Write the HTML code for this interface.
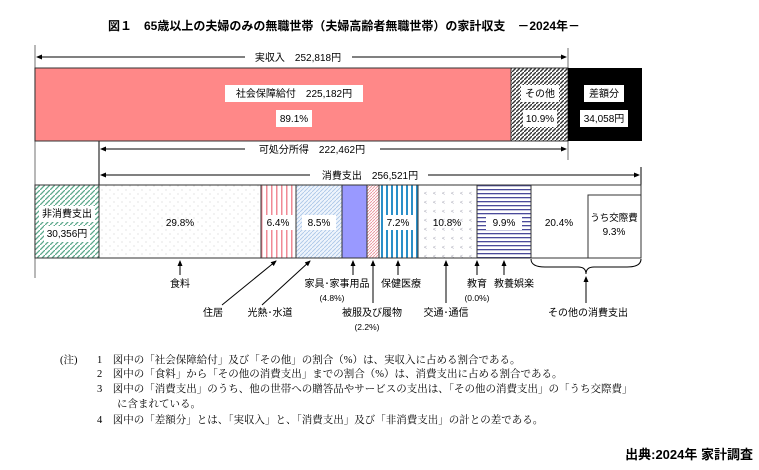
<!DOCTYPE html>
<html><head><meta charset="utf-8"><style>
body{margin:0;background:#fff}
svg{display:block}
text{font-family:"Liberation Sans","Noto Sans CJK JP",sans-serif;font-size:10px;fill:#000}
.s{font-family:"Liberation Serif","Noto Serif CJK SC",serif;font-size:10.5px}
</style></head><body>
<svg width="759" height="470" viewBox="0 0 759 470" xmlns="http://www.w3.org/2000/svg">
<defs>
<pattern id="hb" width="4" height="4" patternUnits="userSpaceOnUse"><rect width="4" height="4" fill="#fff"/><path d="M-1,5 L5,-1" stroke="#333" stroke-width="1.4"/></pattern>
<pattern id="hg" width="5" height="5" patternUnits="userSpaceOnUse"><rect width="5" height="5" fill="#fff"/><path d="M-1,6 L6,-1" stroke="#5aa88a" stroke-width="1.3"/></pattern>
<pattern id="dot" width="8" height="8" patternUnits="userSpaceOnUse"><rect width="8" height="8" fill="#fff"/><circle cx="2" cy="2" r="0.5" fill="#bbb"/><circle cx="6" cy="6" r="0.5" fill="#bbb"/></pattern>
<pattern id="vr" width="5" height="5" patternUnits="userSpaceOnUse"><rect width="5" height="5" fill="#fff"/><rect x="1" width="1.5" height="5" fill="#f08a95"/></pattern>
<pattern id="lb" width="4" height="4" patternUnits="userSpaceOnUse"><rect width="4" height="4" fill="#eef4fc"/><path d="M-1,5 L5,-1" stroke="#a8c4e6" stroke-width="0.8"/></pattern>
<pattern id="rd" width="3" height="3" patternUnits="userSpaceOnUse"><rect width="3" height="3" fill="#fff"/><path d="M-1,4 L4,-1" stroke="#e8909a" stroke-width="0.9"/></pattern>
<pattern id="bv" width="5" height="5" patternUnits="userSpaceOnUse"><rect width="5" height="5" fill="#fff"/><rect x="1" width="2" height="5" fill="#2a8fc8"/></pattern>
<pattern id="pt" width="9" height="9" patternUnits="userSpaceOnUse"><rect width="9" height="9" fill="#fff"/><text x="1" y="6" style="font-size:5px;fill:#99a">&lt;</text></pattern>
<pattern id="hz" width="4" height="4" patternUnits="userSpaceOnUse"><rect width="4" height="4" fill="#fff"/><rect y="1" width="4" height="1.3" fill="#4a4a9a"/></pattern>
<marker id="a" markerWidth="6" markerHeight="6" refX="5" refY="3" orient="auto"><path d="M0,0.5 L6,3 L0,5.5z" fill="#000"/></marker>
</defs>
<text x="108" y="30" style="font-size:12px;font-weight:bold">図１　65歳以上の夫婦のみの無職世帯（夫婦高齢者無職世帯）の家計収支　－2024年－</text>
<!-- guide lines -->
<line x1="35" y1="45" x2="35" y2="278" stroke="#888" stroke-width="1.2"/>
<line x1="568" y1="48" x2="568" y2="160" stroke="#888" stroke-width="1.2"/>
<line x1="99" y1="141" x2="99" y2="186" stroke="#000"/>
<line x1="641" y1="167" x2="641" y2="186" stroke="#000"/>
<!-- arrows -->
<line x1="245" y1="57" x2="37" y2="57" stroke="#000" marker-end="url(#a)"/>
<line x1="352" y1="57" x2="566" y2="57" stroke="#000" marker-end="url(#a)"/>
<text x="298" y="61" text-anchor="middle">実収入　252,818円</text>
<line x1="245" y1="149" x2="101" y2="149" stroke="#000" marker-end="url(#a)"/>
<line x1="380" y1="149" x2="566" y2="149" stroke="#000" marker-end="url(#a)"/>
<text x="312" y="153" text-anchor="middle">可処分所得　222,462円</text>
<line x1="310" y1="175" x2="101" y2="175" stroke="#000" marker-end="url(#a)"/>
<line x1="428" y1="175" x2="639" y2="175" stroke="#000" marker-end="url(#a)"/>
<text x="370" y="179" text-anchor="middle">消費支出　256,521円</text>
<!-- top bar -->
<rect x="35" y="68" width="476" height="73" fill="#ff8888" stroke="#333"/>
<rect x="511" y="68" width="57" height="73" fill="url(#hb)" stroke="#333"/>
<rect x="568" y="68" width="74" height="73" fill="#000"/>
<rect x="225" y="85" width="138" height="17" fill="#fff"/><text x="294" y="97" text-anchor="middle">社会保障給付　225,182円</text>
<rect x="276" y="110" width="36" height="17" fill="#fff"/><text x="294" y="122" text-anchor="middle">89.1%</text>
<rect x="521" y="85" width="38" height="17" fill="#fff"/><text x="540" y="97" text-anchor="middle">その他</text>
<rect x="523" y="110" width="34" height="17" fill="#fff"/><text x="540" y="122" text-anchor="middle">10.9%</text>
<rect x="584" y="85" width="40" height="17" fill="#fff"/><text x="604" y="97" text-anchor="middle">差額分</text>
<rect x="580" y="110" width="48" height="17" fill="#fff"/><text x="604" y="122" text-anchor="middle">34,058円</text>
<!-- bottom bar -->
<g stroke="#333">
<rect x="35" y="185" width="64" height="73" fill="url(#hg)"/>
<rect x="99" y="185" width="162" height="73" fill="url(#dot)"/>
<rect x="261" y="185" width="35" height="73" fill="url(#vr)"/>
<rect x="296" y="185" width="46" height="73" fill="url(#lb)"/>
<rect x="342" y="185" width="25" height="73" fill="#9999ff"/>
<rect x="367" y="185" width="12" height="73" fill="url(#rd)"/>
<rect x="379" y="185" width="39" height="73" fill="url(#bv)"/>
<rect x="418" y="185" width="59" height="73" fill="url(#pt)"/>
<rect x="477" y="185" width="54" height="73" fill="url(#hz)"/>
<rect x="531" y="185" width="110" height="73" fill="#fff"/>
<rect x="588" y="195" width="53" height="63" fill="#fff"/>
</g>
<rect x="39" y="206" width="56" height="16" fill="#fff"/><text x="67" y="217" text-anchor="middle">非消費支出</text>
<rect x="44" y="226" width="46" height="16" fill="#fff"/><text x="67" y="237" text-anchor="middle">30,356円</text>
<text x="180" y="226" text-anchor="middle">29.8%</text>
<rect x="264" y="215" width="29" height="15" fill="#fff"/><text x="278" y="226" text-anchor="middle">6.4%</text>
<rect x="302" y="215" width="34" height="15" fill="#fff"/><text x="319" y="226" text-anchor="middle">8.5%</text>
<rect x="384" y="215" width="29" height="15" fill="#fff"/><text x="398" y="226" text-anchor="middle">7.2%</text>
<text x="447" y="226" text-anchor="middle">10.8%</text>
<rect x="486" y="215" width="36" height="15" fill="#fff"/><text x="504" y="226" text-anchor="middle">9.9%</text>
<text x="559" y="226" text-anchor="middle">20.4%</text>
<text x="614" y="221" text-anchor="middle" style="font-size:9.5px">うち交際費</text>
<text x="614" y="235" text-anchor="middle">9.3%</text>
<!-- pointers -->
<g stroke="#000">
<line x1="180" y1="275" x2="180" y2="261" marker-end="url(#a)"/>
<line x1="222" y1="305" x2="276" y2="261" marker-end="url(#a)"/>
<line x1="262" y1="305" x2="310" y2="261" marker-end="url(#a)"/>
<line x1="353" y1="275" x2="353" y2="261" marker-end="url(#a)"/>
<line x1="373" y1="303" x2="373" y2="261" marker-end="url(#a)"/>
<line x1="398" y1="275" x2="398" y2="261" marker-end="url(#a)"/>
<line x1="446" y1="303" x2="446" y2="261" marker-end="url(#a)"/>
<line x1="477" y1="275" x2="477" y2="261" marker-end="url(#a)"/>
<line x1="504" y1="275" x2="504" y2="261" marker-end="url(#a)"/>
<line x1="586" y1="303" x2="586" y2="277" marker-end="url(#a)"/>
</g>
<path d="M531,259 Q531,267 545,267 L578,267 Q586,267 586,274 Q586,267 594,267 L627,267 Q641,267 641,259" fill="none" stroke="#000"/>
<text x="180" y="287" text-anchor="middle">食料</text>
<text x="213" y="316" text-anchor="middle">住居</text>
<text x="270" y="316" text-anchor="middle">光熱･水道</text>
<text x="337" y="287" text-anchor="middle">家具･家事用品</text>
<text x="332" y="301" text-anchor="middle" style="font-size:8.5px">(4.8%)</text>
<text x="372" y="316" text-anchor="middle">被服及び履物</text>
<text x="367" y="330" text-anchor="middle" style="font-size:8.5px">(2.2%)</text>
<text x="401" y="287" text-anchor="middle">保健医療</text>
<text x="446" y="316" text-anchor="middle">交通･通信</text>
<text x="477" y="287" text-anchor="middle">教育</text>
<text x="477" y="301" text-anchor="middle" style="font-size:8.5px">(0.0%)</text>
<text x="514" y="287" text-anchor="middle">教養娯楽</text>
<text x="588" y="316" text-anchor="middle">その他の消費支出</text>
<!-- notes -->
<g class="s">
<text class="s" x="60" y="363">(注)</text>
<text class="s" x="97" y="363">1　図中の「社会保障給付」及び「その他」の割合（%）は、実収入に占める割合である。</text>
<text class="s" x="97" y="377">2　図中の「食料」から「その他の消費支出」までの割合（%）は、消費支出に占める割合である。</text>
<text class="s" x="97" y="392">3　図中の「消費支出」のうち、他の世帯への贈答品やサービスの支出は、「その他の消費支出」の「うち交際費」</text>
<text class="s" x="117" y="407">に含まれている。</text>
<text class="s" x="97" y="423">4　図中の「差額分」とは、「実収入」と、「消費支出」及び「非消費支出」の計との差である。</text>
</g>
<text x="753" y="459" text-anchor="end" style="font-size:13px;font-weight:bold">出典:2024年 家計調査</text>
</svg>
</body></html>
